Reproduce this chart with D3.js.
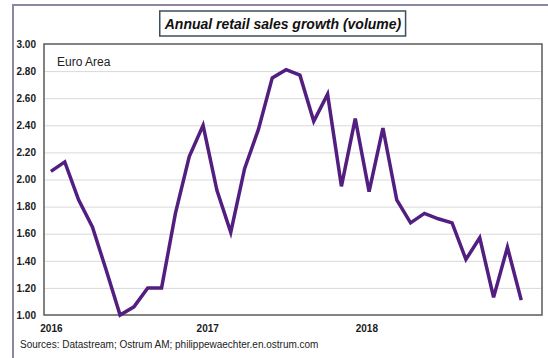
<!DOCTYPE html>
<html>
<head>
<meta charset="utf-8">
<script src="https://cdn.jsdelivr.net/npm/d3@7"></script>
<style>
  body { margin: 0; background: #fff; }
  svg { display: block; font-family: "Liberation Sans", Arial, sans-serif; }
  .tick text { fill: #1a1a1a; font-weight: bold; font-size: 10px; }
</style>
</head>
<body>
<svg width="548" height="358"></svg>
<script>
// monthly values, Jan 2016 .. Nov 2018
const growth = [2.06, 2.13, 1.85, 1.65, 1.33, 1.00, 1.06, 1.20, 1.20, 1.75, 2.17, 2.40,
                1.92, 1.61, 2.08, 2.37, 2.75, 2.81, 2.77, 2.43, 2.63, 1.95, 2.45, 1.91,
                2.38, 1.85, 1.68, 1.75, 1.71, 1.68, 1.41, 1.57, 1.13, 1.50, 1.11];
const yTicks = [1.0, 1.2, 1.4, 1.6, 1.8, 2.0, 2.2, 2.4, 2.6, 2.8, 3.0];
const yearTicks = [0, 11.3, 22.8];
const yearLabels = ['2016', '2017', '2018'];

const plotLeft = 44, plotRight = 542, plotTop = 44, plotBottom = 315;

const svg = d3.select('svg');

// outer frame (right/bottom edges fall outside the picture)
svg.append('path')
   .attr('d', 'M13,360 L13,5 L560,5')
   .attr('fill', 'none')
   .attr('stroke', '#8c87a2')
   .attr('stroke-width', 2);

const xScale = d3.scaleLinear()
                 .domain([-0.5, 35.5])
                 .range([plotLeft, plotRight]);

const yScale = d3.scaleLinear()
                 .domain([1, 3])
                 .range([plotBottom, plotTop]);

// grid
svg.append('g')
   .attr('transform', `translate(${plotLeft}, 0)`)
   .call(d3.axisLeft(yScale)
           .tickValues(yTicks.slice(1, -1))
           .tickSize(-(plotRight - plotLeft))
           .tickFormat(''))
   .call(g => g.select('.domain').remove())
   .call(g => g.selectAll('line').attr('stroke', '#d9d9d9').attr('stroke-width', 1));

// y labels
svg.append('g')
   .attr('transform', `translate(${plotLeft}, 0)`)
   .call(d3.axisLeft(yScale)
           .tickValues(yTicks)
           .tickSize(0)
           .tickPadding(8)
           .tickFormat(d3.format('.2f')))
   .call(g => g.select('.domain').remove());

// x labels
svg.append('g')
   .attr('transform', `translate(0, ${plotBottom})`)
   .call(d3.axisBottom(xScale)
           .tickValues(yearTicks)
           .tickSize(0)
           .tickPadding(10)
           .tickFormat((d, i) => yearLabels[i]))
   .call(g => g.select('.domain').remove());

// plot border
svg.append('rect')
   .attr('x', plotLeft)
   .attr('y', plotTop)
   .attr('width', plotRight - plotLeft)
   .attr('height', plotBottom - plotTop)
   .attr('fill', 'none')
   .attr('stroke', '#5a5a5a')
   .attr('stroke-width', 1.5);

const line = d3.line()
               .x((d, i) => xScale(i))
               .y(d => yScale(d));

svg.append('path')
   .datum(growth)
   .attr('d', line)
   .attr('fill', 'none')
   .attr('stroke', '#521f80')
   .attr('stroke-width', 3.5)
   .attr('stroke-linejoin', 'miter');

svg.append('text')
   .attr('x', 57)
   .attr('y', 66)
   .attr('font-size', 12)
   .attr('fill', '#222')
   .text('Euro Area');

// title in a box
const title = svg.append('text')
   .attr('x', 283)
   .attr('y', 29)
   .attr('text-anchor', 'middle')
   .attr('font-size', 14)
   .attr('font-weight', 'bold')
   .attr('font-style', 'italic')
   .attr('fill', '#111')
   .text('Annual retail sales growth (volume)');

const bb = title.node().getBBox();
svg.insert('rect', () => title.node())
   .attr('x', bb.x - 4)
   .attr('y', 11)
   .attr('width', bb.width + 8)
   .attr('height', 25)
   .attr('fill', '#fff')
   .attr('stroke', '#3d4f5c')
   .attr('stroke-width', 1.5);

svg.append('text')
   .attr('x', 20)
   .attr('y', 348)
   .attr('font-size', 10)
   .attr('fill', '#222')
   .text('Sources: Datastream; Ostrum AM; philippewaechter.en.ostrum.com');
</script>
</body>
</html>
